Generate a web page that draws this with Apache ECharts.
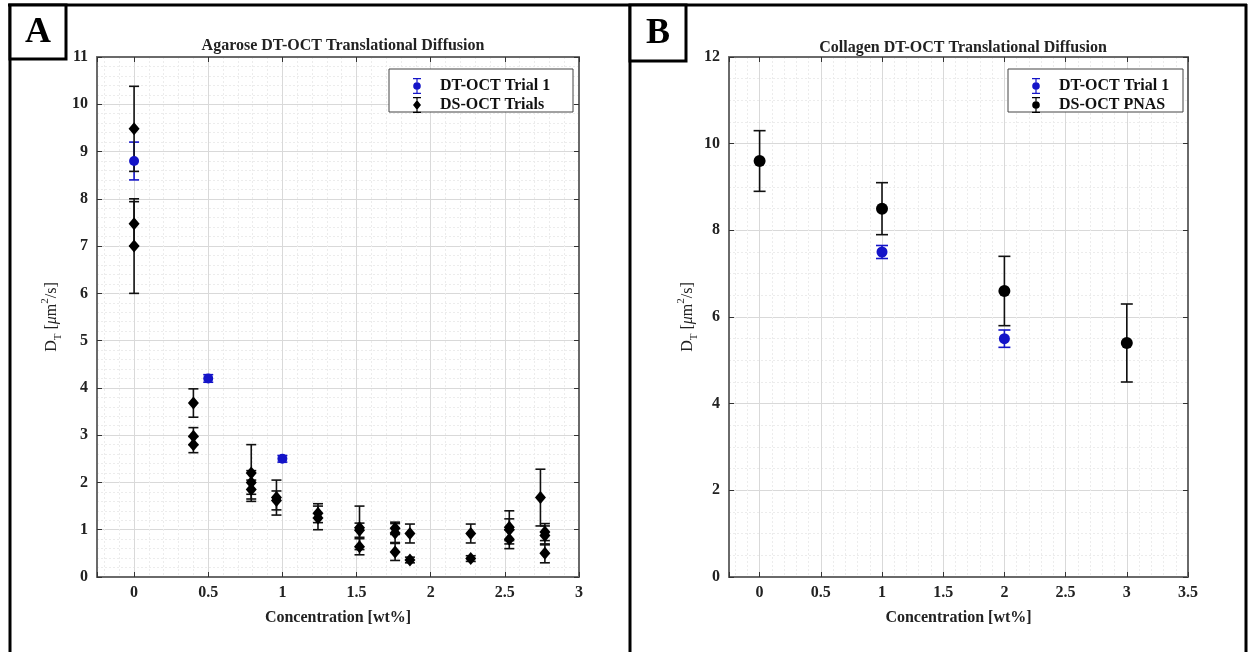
<!DOCTYPE html>
<html><head><meta charset="utf-8">
<script src="https://cdn.jsdelivr.net/npm/echarts@6/dist/echarts.min.js"></script>
<style>html,body{margin:0;padding:0;background:#fff}#c{width:1249px;height:652px}</style>
</head><body><div id="c"></div>
<script>
// ---------- Panel A: Agarose ----------
const aTitle = 'Agarose DT-OCT Translational Diffusion';
const aDtX   = [0, 0.5, 1];
const aDtY   = [8.8, 4.2, 2.5];
const aDtErr = [0.4, 0.08, 0.07];
const aDsX   = [0, 0, 0, 0.4, 0.4, 0.4, 0.79, 0.79, 0.79, 0.96, 0.96, 1.24, 1.24, 1.52, 1.52, 1.52, 1.76, 1.76, 1.76, 1.86, 1.86, 2.27, 2.27, 2.53, 2.53, 2.53, 2.74, 2.77, 2.77, 2.77];
const aDsY   = [9.48, 7.47, 7.0, 3.68, 2.98, 2.8, 2.2, 2.0, 1.85, 1.68, 1.62, 1.35, 1.25, 1.04, 0.99, 0.64, 1.03, 0.93, 0.53, 0.92, 0.36, 0.92, 0.39, 1.05, 1.0, 0.8, 1.68, 0.95, 0.88, 0.5];
const aDsErr = [0.9, 0.47, 1.0, 0.3, 0.18, 0.17, 0.6, 0.25, 0.2, 0.37, 0.2, 0.2, 0.25, 0.46, 0.15, 0.17, 0.13, 0.2, 0.18, 0.2, 0.06, 0.2, 0.06, 0.35, 0.23, 0.2, 0.6, 0.18, 0.2, 0.2];
const aLegend = ['DT-OCT Trial 1', 'DS-OCT Trials'];

// ---------- Panel B: Collagen ----------
const bTitle = 'Collagen DT-OCT Translational Diffusion';
const bDtX   = [1, 2];
const bDtY   = [7.5, 5.5];
const bDtErr = [0.15, 0.2];
const bDsX   = [0, 1, 2, 3];
const bDsY   = [9.6, 8.5, 6.6, 5.4];
const bDsErr = [0.7, 0.6, 0.8, 0.9];
const bLegend = ['DT-OCT Trial 1', 'DS-OCT PNAS'];

const xLabel = 'Concentration [wt%]';

const FONT = '"Liberation Serif","Times New Roman",serif';
const BLUE = '#1414c8';
const BLACK = '#000000';

const zip = (xs, ys, es) => xs.map((x, i) => [x, ys[i], es[i]]);

function errRender(color, cap) {
  return function (params, api) {
    const x = api.value(0), y = api.value(1), e = api.value(2);
    const p1 = api.coord([x, y + e]);
    const p2 = api.coord([x, y - e]);
    const st = { stroke: color, lineWidth: 1.6 };
    return { type: 'group', children: [
      { type: 'line', shape: { x1: p1[0], y1: p1[1], x2: p2[0], y2: p2[1] }, style: st },
      { type: 'line', shape: { x1: p1[0] - cap, y1: p1[1], x2: p1[0] + cap, y2: p1[1] }, style: st },
      { type: 'line', shape: { x1: p2[0] - cap, y1: p2[1], x2: p2[0] + cap, y2: p2[1] }, style: st }
    ]};
  };
}

const AXC = '#6a6a6a';
function xAx(grid, min, max, pos, labels) {
  return {
    type: 'value', gridIndex: grid, min: min, max: max, splitNumber: 7, position: pos,
    axisLine: { show: true, onZero: false, lineStyle: { color: AXC, width: 2 } },
    axisTick: { show: true, inside: true, length: 5, lineStyle: { color: '#333', width: 1 } },
    axisLabel: { show: labels, margin: 8, color: '#222', fontFamily: FONT, fontWeight: 'bold', fontSize: 16,
      formatter: v => (Math.abs(v * 2 - Math.round(v * 2)) < 1e-6 ? String(v) : '') },
    splitLine: { show: labels, lineStyle: { color: '#d9d9d9', width: 1 } },
    minorTick: { show: false, splitNumber: 5 },
    minorSplitLine: { show: labels, lineStyle: { color: '#ececec', width: 1, type: [2, 2] } },
    name: labels ? xLabel : '', nameLocation: 'middle', nameGap: 33,
    nameTextStyle: { fontFamily: FONT, fontWeight: 'bold', fontSize: 16, color: '#222' }
  };
}
const yName = '{a|D}{s|T}{a| [}{i|μ}{a|m}{p|2}{a|/s]}';
const yRich = {
  a: { fontFamily: FONT, fontSize: 16, color: '#222', lineHeight: 24, verticalAlign: 'middle' },
  i: { fontFamily: FONT, fontSize: 16, fontStyle: 'italic', color: '#222', lineHeight: 24, verticalAlign: 'middle' },
  s: { fontFamily: FONT, fontSize: 11, color: '#222', lineHeight: 11, verticalAlign: 'bottom' },
  p: { fontFamily: FONT, fontSize: 11, color: '#222', lineHeight: 11, verticalAlign: 'top' }
};
function yAx(grid, max, interval, minorN, pos, labels, gap) {
  return {
    type: 'value', gridIndex: grid, min: 0, max: max, interval: interval, position: pos,
    axisLine: { show: true, onZero: false, lineStyle: { color: AXC, width: 2 } },
    axisTick: { show: true, inside: true, length: 5, lineStyle: { color: '#333', width: 1 } },
    axisLabel: { show: labels, margin: 9, color: '#222', fontFamily: FONT, fontWeight: 'bold', fontSize: 16 },
    splitLine: { show: labels, lineStyle: { color: '#d9d9d9', width: 1 } },
    minorTick: { show: false, splitNumber: minorN },
    minorSplitLine: { show: labels, lineStyle: { color: '#ececec', width: 1, type: [2, 2] } },
    name: labels ? yName : '', nameLocation: 'middle', nameGap: gap,
    nameTextStyle: { rich: yRich }
  };
}

const ICON_CIRCLE = 'path://M1 0H9V1.2H1Z M4.4 0H5.6V16H4.4Z M1 14.8H9V16H1Z M5 4.2A3.8 3.8 0 1 1 5 11.8A3.8 3.8 0 1 1 5 4.2Z';
const ICON_DIAMOND = 'path://M1 0H9V1.2H1Z M4.4 0H5.6V16H4.4Z M1 14.8H9V16H1Z M5 3L9 8L5 13L1 8Z';

const chart = echarts.init(document.getElementById('c'), null, { renderer: 'canvas' });

const legendCommon = {
  orient: 'vertical', itemWidth: 10, itemHeight: 16, itemGap: 3, selectedMode: false,
  textStyle: { fontFamily: FONT, fontWeight: 'bold', fontSize: 16, color: '#111', padding: [0, 0, 0, 13] }
};

const option = {
  backgroundColor: '#ffffff',
  animation: false,
  title: [
    { text: aTitle, left: 338, top: 33, textAlign: 'center',
      textStyle: { fontFamily: FONT, fontWeight: 'bold', fontSize: 16, color: '#222' } },
    { text: bTitle, left: 958, top: 35, textAlign: 'center',
      textStyle: { fontFamily: FONT, fontWeight: 'bold', fontSize: 16, color: '#222' } }
  ],
  grid: [
    { left: 97, top: 57, width: 482, height: 520, containLabel: false },
    { left: 729, top: 57, width: 459, height: 520, containLabel: false }
  ],
  xAxis: [
    xAx(0, -0.25, 3, 'bottom', true), xAx(0, -0.25, 3, 'top', false),
    xAx(1, -0.25, 3.5, 'bottom', true), xAx(1, -0.25, 3.5, 'top', false)
  ],
  yAxis: [
    yAx(0, 11, 1, 5, 'left', true, 33), yAx(0, 11, 1, 5, 'right', false, 0),
    yAx(1, 12, 2, 4, 'left', true, 25), yAx(1, 12, 2, 4, 'right', false, 0)
  ],
  legend: [
    Object.assign({ left: 408, top: 73, data: [
      { name: aLegend[0], icon: ICON_CIRCLE }, { name: aLegend[1], icon: ICON_DIAMOND } ] }, legendCommon),
    Object.assign({ left: 1027, top: 73, data: [
      { name: bLegend[0], icon: ICON_CIRCLE }, { name: bLegend[1], icon: ICON_CIRCLE } ] }, legendCommon)
  ],
  series: [
    { type: 'custom', name: 'errA_dt', xAxisIndex: 0, yAxisIndex: 0, z: 2, renderItem: errRender(BLUE, 5),
      encode: { x: 0, y: 1 }, data: zip(aDtX, aDtY, aDtErr) },
    { type: 'custom', name: 'errA_ds', xAxisIndex: 0, yAxisIndex: 0, z: 2, renderItem: errRender('#111', 5),
      encode: { x: 0, y: 1 }, data: zip(aDsX, aDsY, aDsErr) },
    { type: 'scatter', name: aLegend[0], xAxisIndex: 0, yAxisIndex: 0, z: 4, symbol: 'circle', symbolSize: 10,
      itemStyle: { color: BLUE, opacity: 1 }, data: zip(aDtX, aDtY, aDtErr) },
    { type: 'scatter', name: aLegend[1], xAxisIndex: 0, yAxisIndex: 0, z: 3, symbol: 'diamond', symbolSize: [11, 13],
      itemStyle: { color: BLACK, opacity: 1 }, data: zip(aDsX, aDsY, aDsErr) },

    { type: 'custom', name: 'errB_dt', xAxisIndex: 2, yAxisIndex: 2, z: 2, renderItem: errRender(BLUE, 6),
      encode: { x: 0, y: 1 }, data: zip(bDtX, bDtY, bDtErr) },
    { type: 'custom', name: 'errB_ds', xAxisIndex: 2, yAxisIndex: 2, z: 2, renderItem: errRender('#111', 6),
      encode: { x: 0, y: 1 }, data: zip(bDsX, bDsY, bDsErr) },
    { type: 'scatter', name: bLegend[0], xAxisIndex: 2, yAxisIndex: 2, z: 4, symbol: 'circle', symbolSize: 11,
      itemStyle: { color: BLUE, opacity: 1 }, data: zip(bDtX, bDtY, bDtErr) },
    { type: 'scatter', name: bLegend[1], xAxisIndex: 2, yAxisIndex: 2, z: 3, symbol: 'circle', symbolSize: 12,
      itemStyle: { color: BLACK, opacity: 1 }, data: zip(bDsX, bDsY, bDsErr) }
  ],
  graphic: [
    // legend boxes
    { type: 'rect', shape: { x: 389, y: 69, width: 184, height: 43 }, style: { fill: '#fff', stroke: '#444', lineWidth: 1 }, z: 5 },
    { type: 'rect', shape: { x: 1008, y: 69, width: 175, height: 43 }, style: { fill: '#fff', stroke: '#444', lineWidth: 1 }, z: 5 },
    // outer frame
    { type: 'line', shape: { x1: 8, y1: 5, x2: 1247, y2: 5 }, style: { stroke: '#000', lineWidth: 3 }, z: 20 },
    { type: 'line', shape: { x1: 10, y1: 4, x2: 10, y2: 652 }, style: { stroke: '#000', lineWidth: 3 }, z: 20 },
    { type: 'line', shape: { x1: 630, y1: 4, x2: 630, y2: 652 }, style: { stroke: '#000', lineWidth: 3 }, z: 20 },
    { type: 'line', shape: { x1: 1246, y1: 4, x2: 1246, y2: 652 }, style: { stroke: '#000', lineWidth: 3 }, z: 20 },
    // panel letter boxes
    { type: 'rect', shape: { x: 10, y: 5, width: 56, height: 54 }, style: { fill: '#fff', stroke: '#000', lineWidth: 3 }, z: 20 },
    { type: 'text', x: 38, y: 33, style: { text: 'A', font: 'bold 36px ' + FONT, fill: '#000', align: 'center', verticalAlign: 'middle' }, z: 21 },
    { type: 'rect', shape: { x: 630, y: 5, width: 56, height: 56 }, style: { fill: '#fff', stroke: '#000', lineWidth: 3 }, z: 20 },
    { type: 'text', x: 658, y: 34, style: { text: 'B', font: 'bold 36px ' + FONT, fill: '#000', align: 'center', verticalAlign: 'middle' }, z: 21 }
  ]
};
option.legend.forEach(l => { l.z = 10; });
chart.setOption(option);
</script>
</body></html>
